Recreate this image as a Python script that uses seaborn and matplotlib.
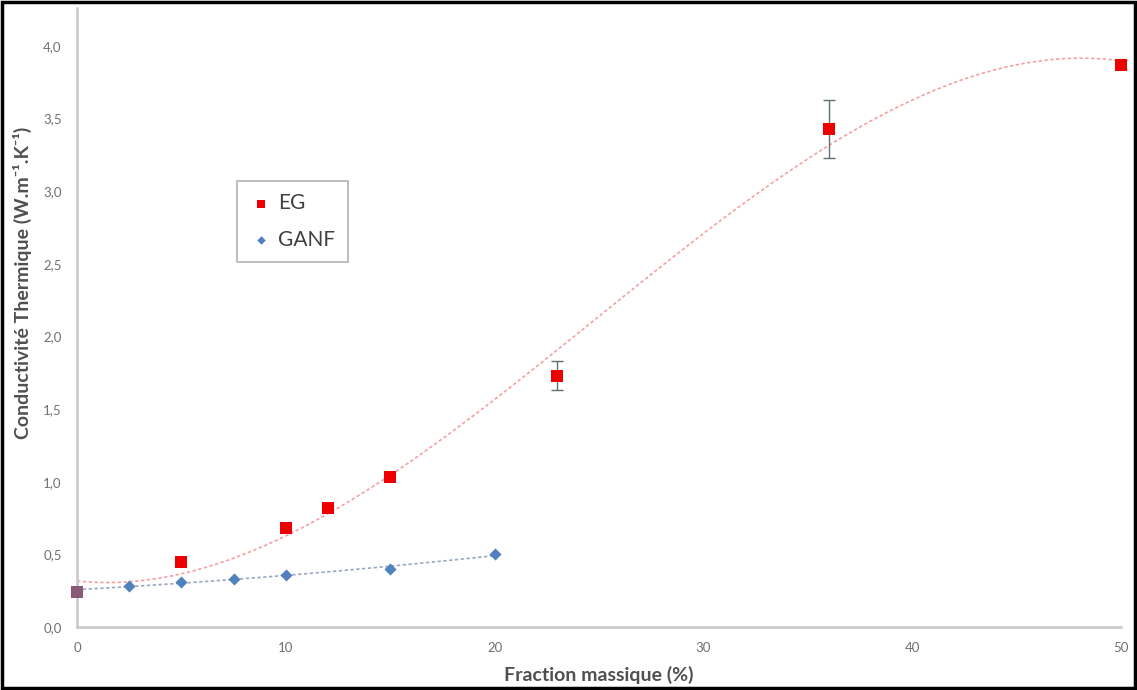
import numpy as np
import pandas as pd
import matplotlib as mpl
import matplotlib.pyplot as plt
from matplotlib.patches import Rectangle
from matplotlib.ticker import FuncFormatter, MultipleLocator
import seaborn as sns

sns.set_style('white')
mpl.rc('font', family=['Lato', 'DejaVu Sans'])

# données
eg_x = [0, 5, 10, 12, 15, 23, 36, 50]
eg_y = [0.24, 0.45, 0.68, 0.82, 1.03, 1.73, 3.43, 3.87]
eg_err = [0, 0, 0, 0, 0, 0.10, 0.20, 0.03]

ganf_x = [0, 2.5, 5, 7.5, 10, 15, 20]
ganf_y = [0.25, 0.28, 0.31, 0.33, 0.36, 0.40, 0.50]

eg = pd.DataFrame({'x': eg_x, 'y': eg_y, 'err': eg_err})
ganf = pd.DataFrame({'x': ganf_x, 'y': ganf_y})

red = '#ee0000'
blue = '#4f81bd'

fig = plt.figure(figsize=(11.37, 6.9), dpi=100)
ax = fig.add_axes([0.0677, 0.0913, 0.9183, 0.897])

# courbes de tendance polynomiales
sns.regplot(data=eg, x='x', y='y', order=3, ci=None, scatter=False, ax=ax,
            line_kws=dict(color='#f4a0a0', ls=(0, (2, 1.5)), lw=1.2))
sns.regplot(data=ganf, x='x', y='y', order=2, ci=None, scatter=False, ax=ax,
            line_kws=dict(color='#9aa8c0', ls=(0, (2, 1.5)), lw=1.2))

err = eg[eg['err'] > 0]
ax.errorbar(err['x'], err['y'], yerr=err['err'], fmt='none', ecolor='#5f7070',
            elinewidth=1, capsize=4, capthick=1, zorder=3, clip_on=False)

sns.scatterplot(data=eg, x='x', y='y', marker='s', s=80, color=red,
                edgecolor=red, linewidth=0, ax=ax, zorder=4, label='EG',
                clip_on=False)
sns.scatterplot(data=ganf, x='x', y='y', marker='D', s=38, color=blue,
                edgecolor=blue, linewidth=0, ax=ax, zorder=5, label='GANF',
                clip_on=False)
# point commun à 0 % : teinte mélangée comme sur l'original
ax.scatter(eg_x[0], eg_y[0], marker='s', s=80, color='#8a5a78', zorder=6,
           clip_on=False, linewidths=0)

ax.set_xlim(0, 50)
ax.set_ylim(0, 4.26)
ax.xaxis.set_major_locator(MultipleLocator(10))
ax.yaxis.set_major_locator(MultipleLocator(0.5))
ax.yaxis.set_major_formatter(FuncFormatter(lambda v, p: f'{v:.1f}'.replace('.', ',')))
ax.tick_params(axis='both', labelsize=9.5, length=3, width=0.8,
               direction='out', pad=8, colors='#bfbfbf', labelcolor='#707070')
for s in ['top', 'right']:
    ax.spines[s].set_visible(False)
for s in ['left', 'bottom']:
    ax.spines[s].set_color('#c8c8c8')
    ax.spines[s].set_linewidth(1.8)

ax.set_xlabel('Fraction massique (%)', fontsize=14, fontweight='bold',
              color='#505050')
ax.set_ylabel('Conductivité Thermique (W.m⁻¹.K⁻¹)',
              fontsize=14, fontweight='bold', color='#505050')
ax.xaxis.set_label_coords(0.5, -0.063)
ax.yaxis.set_label_coords(-0.043, 0.556)

handles, labels = ax.get_legend_handles_labels()
leg = ax.legend(handles, labels,
                loc='upper left', bbox_to_anchor=(0.143, 0.738), fontsize=15,
                frameon=True, fancybox=False, edgecolor='#a0a0a0',
                handletextpad=0.3, borderpad=0.6, labelspacing=0.8,
                handlelength=1.1, markerscale=0.7)
leg.get_frame().set_linewidth(1.2)
for t in leg.get_texts():
    t.set_color('#404040')

fig.patches.append(Rectangle((0.002, 0.003), 0.996, 0.994, transform=fig.transFigure,
                             fill=False, edgecolor='black', linewidth=2.5))

fig.savefig('out.png', dpi=100)
